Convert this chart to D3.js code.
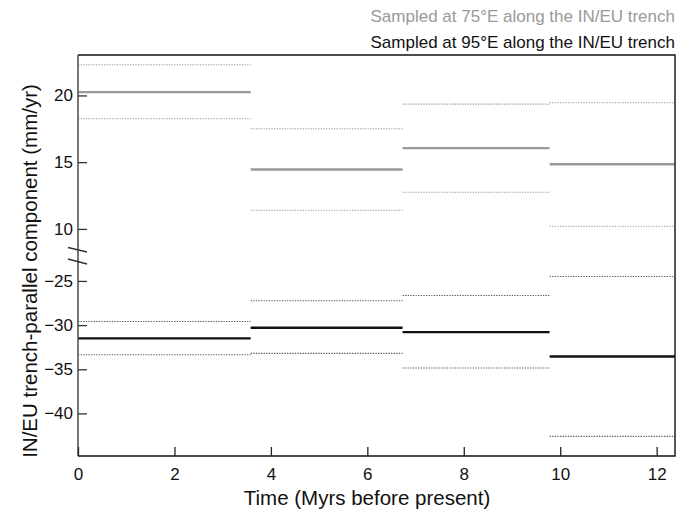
<!DOCTYPE html>
<html>
<head>
<meta charset="utf-8">
<script src="https://cdn.jsdelivr.net/npm/d3@7"></script>
<style>
  body { margin: 0; background: #fff; }
  svg text { font-family: "Liberation Sans", Arial, Helvetica, sans-serif; }
</style>
</head>
<body>
<div id="graph"></div>
<script>
// time bins (Myr before present)
const timeEdges = [0, 3.58, 6.73, 9.78, 12.38];
const xTicks = [0, 2, 4, 6, 8, 10, 12];

// 75E samples (grey), upper panel
const east75Mean  = [20.25, 14.45, 16.05, 14.85];
const east75Upper = [22.3, 17.5, 19.35, 19.45];
const east75Lower = [18.25, 11.4, 12.75, 10.2];

// 95E samples (black), lower panel
const east95Mean  = [-31.5, -30.3, -30.8, -33.55];
const east95Upper = [-29.6, -27.25, -26.65, -24.5];
const east95Lower = [-33.35, -33.2, -34.85, -42.6];

const upperTicks = [10, 15, 20];
const lowerTicks = [-40, -35, -30, -25];

const legendLabels = ["Sampled at 75°E along the IN/EU trench", "Sampled at 95°E along the IN/EU trench"];

const width = 686, height = 515;
const plot = { left: 78, right: 675, top: 55, bottom: 456 };

const svg = d3.select("#graph").append("svg")
    .attr("width", width).attr("height", height);

const x = d3.scaleLinear().domain([0, 12.38]).range([plot.left, plot.right]);
const yUp = d3.scaleLinear().domain([8.6, 23.03]).range([247.6, plot.top]);
const yLow = d3.scaleLinear().domain([-44.82, -22.8]).range([plot.bottom, 261.5]);

function bins(mean, hi, lo) {
  return mean.map((m, i) => ({ x0: timeEdges[i], x1: timeEdges[i + 1], m: m, hi: hi[i], lo: lo[i] }));
}

function drawSeries(data, y, solidColor, dotColor) {
  const g = svg.append("g");
  ["hi", "lo"].forEach(k => {
    g.selectAll("line." + k).data(data).enter().append("line")
      .attr("class", k)
      .attr("x1", d => x(d.x0)).attr("x2", d => x(d.x1))
      .attr("y1", d => y(d[k])).attr("y2", d => y(d[k]))
      .attr("stroke", dotColor).attr("stroke-width", 1.1)
      .attr("stroke-dasharray", "1.3,1.3");
  });
  g.selectAll("line.mean").data(data).enter().append("line")
    .attr("class", "mean")
    .attr("x1", d => x(d.x0)).attr("x2", d => x(d.x1))
    .attr("y1", d => y(d.m)).attr("y2", d => y(d.m))
    .attr("stroke", solidColor).attr("stroke-width", 2.4);
}

drawSeries(bins(east75Mean, east75Upper, east75Lower), yUp, "#999", "#999");
drawSeries(bins(east95Mean, east95Upper, east95Lower), yLow, "#111", "#555");

// frame
svg.append("path")
  .attr("d", `M${plot.left},${plot.top}H${plot.right}V${plot.bottom}H${plot.left}`)
  .attr("fill", "none").attr("stroke", "#111").attr("stroke-width", 1.4);
svg.append("line")
  .attr("x1", plot.left).attr("x2", plot.left).attr("y1", plot.top).attr("y2", plot.bottom)
  .attr("stroke", "#555").attr("stroke-width", 1.6);

// x axis, ticks pointing inward
const xAxis = d3.axisBottom(x).tickValues(xTicks).tickSize(-9).tickPadding(12).tickFormat(d3.format("d"));
const gx = svg.append("g").attr("transform", `translate(0,${plot.bottom})`).call(xAxis);
gx.select(".domain").remove();
gx.selectAll(".tick line").attr("stroke", "#222").attr("stroke-width", 1.3);
gx.selectAll(".tick text").attr("font-size", 17).attr("fill", "#111")
  .attr("font-family", '"Liberation Sans", Arial, sans-serif');

// y axes (two pieces)
function yAxisPiece(scale, ticks) {
  const ax = d3.axisLeft(scale).tickValues(ticks).tickSize(-9).tickPadding(5);
  const g = svg.append("g").attr("transform", `translate(${plot.left},0)`).call(ax);
  g.select(".domain").remove();
  g.selectAll(".tick line").attr("stroke", "#333").attr("stroke-width", 1.3);
  g.selectAll(".tick text").attr("font-size", 17).attr("fill", "#111")
    .attr("font-family", '"Liberation Sans", Arial, sans-serif');
}
yAxisPiece(yUp, upperTicks);
yAxisPiece(yLow, lowerTicks);

// axis break marks
[[247.5, 252], [259, 264]].forEach(p => {
  svg.append("line")
    .attr("x1", 68).attr("y1", p[0]).attr("x2", 87).attr("y2", p[1])
    .attr("stroke", "#333").attr("stroke-width", 1.4);
});

// axis titles
svg.append("text")
  .attr("x", 367).attr("y", 505)
  .attr("text-anchor", "middle").attr("font-size", 20.5).attr("fill", "#111")
  .text("Time (Myrs before present)");

svg.append("text")
  .attr("transform", "translate(37,271) rotate(-90)")
  .attr("text-anchor", "middle").attr("font-size", 20.5).attr("fill", "#111")
  .text("IN/EU trench-parallel component (mm/yr)");

// legend
svg.selectAll("text.legend").data(legendLabels).enter().append("text")
  .attr("class", "legend")
  .attr("x", plot.right).attr("y", (d, i) => 22 + i * 26)
  .attr("text-anchor", "end").attr("font-size", 17)
  .attr("fill", (d, i) => i === 0 ? "#999" : "#111")
  .text(d => d);
</script>
</body>
</html>
